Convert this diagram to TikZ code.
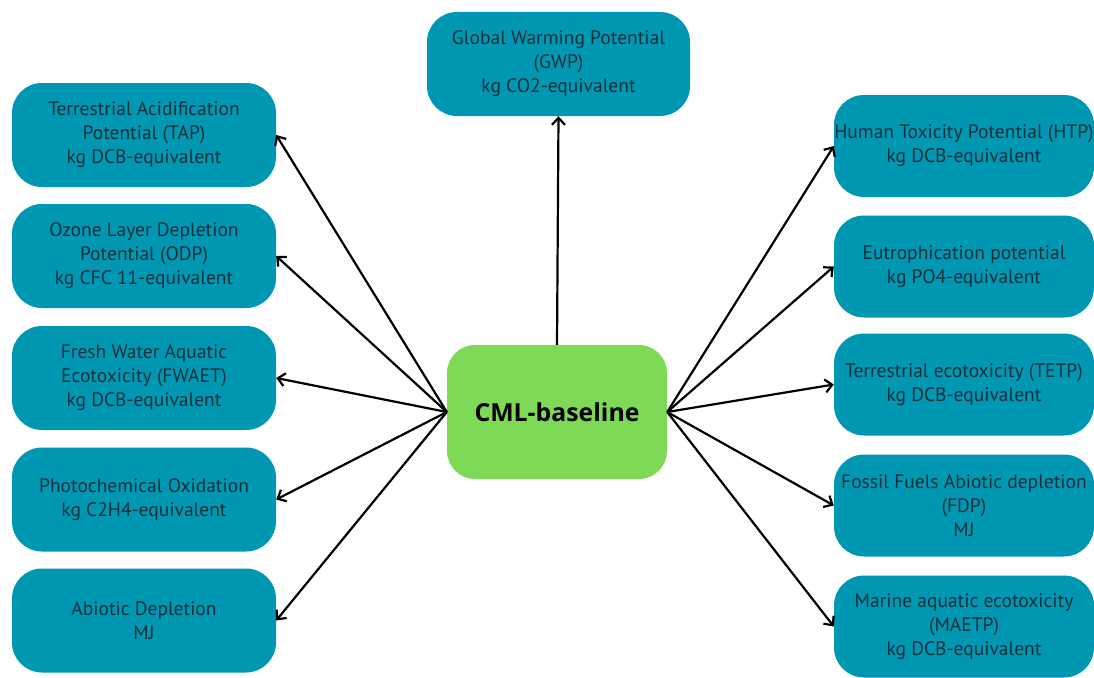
\documentclass[tikz,border=0pt]{standalone}
\usepackage{fontspec}
\setmainfont{PT Sans}
\newfontfamily\hubfont{Open Sans}
\usetikzlibrary{arrows.meta}
\definecolor{tealbox}{HTML}{0097B2}
\definecolor{hubgreen}{HTML}{7ED957}
\definecolor{labelink}{HTML}{14303C}
\begin{document}
\begin{tikzpicture}[x=1pt,y=-1pt,
  catbox/.style={rectangle, rounded corners=30pt, fill=tealbox, draw=none,
    text=labelink, align=center, inner sep=0pt,
    font=\fontsize{19.5}{24}\selectfont},
  leftbox/.style={catbox, minimum width=264pt, minimum height=104pt},
  rightbox/.style={catbox, minimum width=260pt, minimum height=102pt},
  hub/.style={rectangle, rounded corners=28pt, fill=hubgreen, draw=none,
    minimum width=220pt, minimum height=134pt,
    font=\hubfont\bfseries\fontsize{24.8}{30}\selectfont, text=black},
  link/.style={line width=2.2pt, -{Straight Barb[length=7pt,width=13pt,line width=2.2pt]}}
]
\useasboundingbox (0,0) rectangle (1094,677);

% central method
\node[hub] (cml) at (557,412) {CML-baseline};

% top category
\node[catbox, minimum width=263pt, minimum height=104pt] (gwp) at (558.5,64)
  {Global Warming Potential\\(GWP)\\kg CO2-equivalent};

% left column
\node[leftbox] (tap) at (144,135) {Terrestrial Acidification\\Potential (TAP)\\kg DCB-equivalent};
\node[leftbox] (odp) at (144,256) {Ozone Layer Depletion\\Potential (ODP)\\kg CFC 11-equivalent};
\node[leftbox] (fwaet) at (144,378) {Fresh Water Aquatic\\Ecotoxicity (FWAET)\\kg DCB-equivalent};
\node[leftbox] (poc) at (144,499.5) {Photochemical Oxidation\\kg C2H4-equivalent};
\node[leftbox] (abd) at (144,620.5) {Abiotic Depletion\\MJ};

% right column
\node[rightbox] (htp) at (964,146) {Human Toxicity Potential (HTP)\\kg DCB-equivalent};
\node[rightbox] (eut) at (964,266.5) {Eutrophication potential\\kg PO4-equivalent};
\node[rightbox] (tetp) at (964,384.5) {Terrestrial ecotoxicity (TETP)\\kg DCB-equivalent};
\node[rightbox] (fdp) at (964,505.5) {Fossil Fuels Abiotic depletion\\(FDP)\\MJ};
\node[rightbox] (maetp) at (964,626.5) {Marine aquatic ecotoxicity\\(MAETP)\\kg DCB-equivalent};

% connectors
\draw[link] (cml.north) -- (gwp.south);
\foreach \t in {tap,odp,fwaet,poc,abd} \draw[link] (cml.west) -- (\t.east);
\foreach \t in {htp,eut,tetp,fdp,maetp} \draw[link] (cml.east) -- (\t.west);
\end{tikzpicture}
\end{document}
